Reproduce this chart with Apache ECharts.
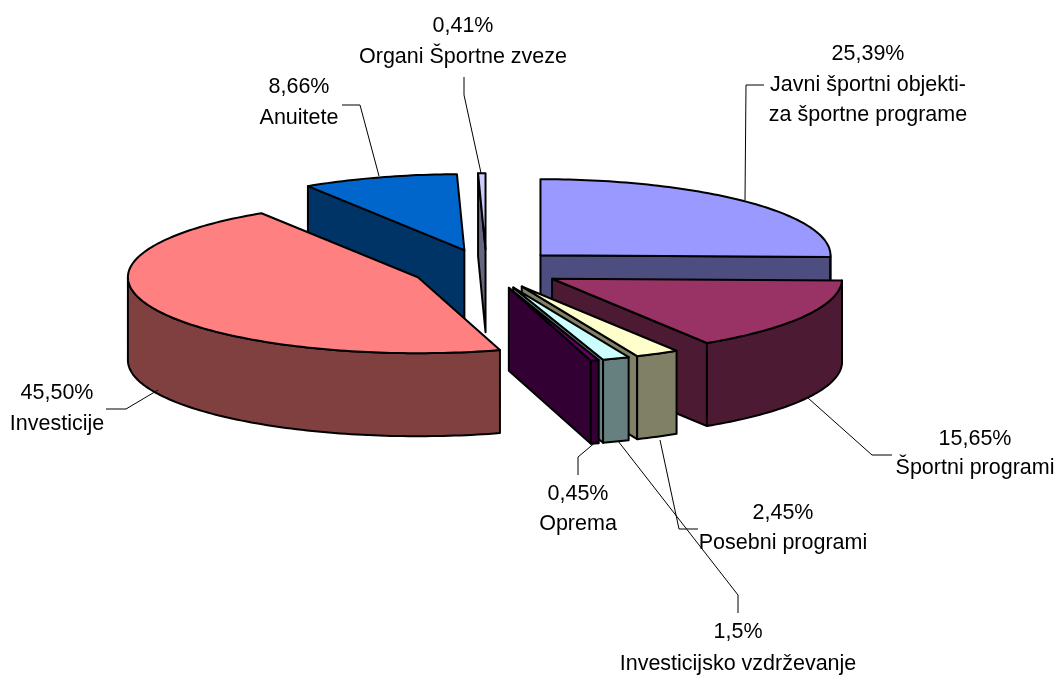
<!DOCTYPE html>
<html><head><meta charset="utf-8">
<style>html,body{margin:0;padding:0;background:#fff}#c{width:1056px;height:675px}</style>
<script src="https://cdn.jsdelivr.net/npm/echarts@6/dist/echarts.min.js"></script>
</head><body><div id="c"></div>
<script>
// Data (clockwise from 12 o'clock)
const categories = ['Javni športni objekti-\nza športne programe','Športni programi','Posebni programi','Investicijsko vzdrževanje','Oprema','Investicije','Anuitete','Organi Športne zveze'];
const values = [25.39,15.65,2.45,1.5,0.45,45.50,8.66,0.41];
const valueLabels = ['25,39%','15,65%','2,45%','1,5%','0,45%','45,50%','8,66%','0,41%'];
const topColors = ['#9999FF','#993366','#FFFFCC','#CCFFFF','#660066','#FF8080','#0066CC','#CCCCFF'];
const wallColors = ['#4D4D80','#4D1A33','#808066','#668080','#330033','#804040','#003366','#666680'];

// Layout
const drawOrder = [6,7,0,5,1,2,3,4];
const pie = {cx:486.5, cy:269, rx:290, ry:76, depth:83, explode:0.26};
const labelPos = [[868,54,85,30],[975,439,468,0],[783,513,543,0],[738,632,664,0],[578,494,524,0],[57,393,424,0],[299,87,118,0],[463,26,57,0]];
const leaders = [
 [[764,85],[746,85],[745,200]],
 [[892,455],[872,455],[808,398]],
 [[698,529],[679,529],[660,440]],
 [[738,613],[738,595],[618,441]],
 [[578,475],[578,457],[597,441]],
 [[106,409],[126,409],[158,390]],
 [[342,105],[360,105],[379,176]],
 [[464,77],[464,95],[481,173]]
];

const total = values.reduce((a,b)=>a+b,0);
const starts = []; values.reduce((a,v,i)=>{starts[i]=a;return a+v;},0);
const toAng = v => v/total*Math.PI*2;

function renderSlice(params, api){
  const i = api.value(0), v = api.value(1);
  const a0 = toAng(starts[i]), a1 = toAng(starts[i]+v), mid=(a0+a1)/2;
  const cx = pie.cx + pie.explode*pie.rx*Math.sin(mid);
  const cy = pie.cy - pie.explode*pie.ry*Math.cos(mid);
  const P = (t,d)=>[cx+pie.rx*Math.sin(t), cy-pie.ry*Math.cos(t)+(d||0)];
  const arc = (s,e,d)=>{const n=Math.max(2,Math.ceil((e-s)/0.02)),o=[];for(let k=0;k<=n;k++)o.push(P(s+(e-s)*k/n,d));return o;};
  const line = {stroke:'#000',lineWidth:2,lineJoin:'round'};
  const poly = (pts,fill)=>({type:'polygon',shape:{points:pts},style:Object.assign({fill},line),silent:true});
  const children = [];
  const D = pie.depth, C=[cx,cy], CB=[cx,cy+D];
  // only the cut faces turned towards the viewer
  if(Math.sin(a0)<0) children.push(poly([C,P(a0),P(a0,D),CB],wallColors[i]));
  if(Math.sin(a1)>0) children.push(poly([C,P(a1),P(a1,D),CB],wallColors[i]));
  const w0=Math.max(a0,Math.PI/2), w1=Math.min(a1,Math.PI*1.5);
  if(w1>w0) children.push(poly(arc(w0,w1,0).concat(arc(w0,w1,D).reverse()),wallColors[i]));
  children.push(poly([C].concat(arc(a0,a1,0)),topColors[i]));
  return {type:'group',children};
}
function renderLabel(params, api){
  const i = api.value(0), lp = labelPos[i], txt={fill:'#000',fontSize:21.5,fontFamily:'"Liberation Sans",Arial,sans-serif',align:'center',textAlign:'center',verticalAlign:'middle',textVerticalAlign:'middle'};
  const names = categories[i].split('\n');
  const children=[{type:'polyline',shape:{points:leaders[i]},style:{stroke:'#000',lineWidth:1,fill:null},silent:true},
    {type:'text',style:Object.assign({x:lp[0],y:lp[1],text:valueLabels[i]},txt),silent:true}];
  names.forEach((n,k)=>children.push({type:'text',style:Object.assign({x:lp[0],y:lp[2]+k*lp[3],text:n},txt),silent:true}));
  return {type:'group',children};
}
const chart = echarts.init(document.getElementById('c'),null,{renderer:'canvas'});
chart.setOption({
  animation:false, backgroundColor:'#fff',
  series:[
    {type:'custom',coordinateSystem:'none',renderItem:renderSlice,z:2,silent:true,
     data:drawOrder.map(i=>({name:categories[i],value:[i,values[i]]}))},
    {type:'custom',coordinateSystem:'none',renderItem:renderLabel,z:3,silent:true,
     data:categories.map((c,i)=>({name:c,value:[i,values[i]]}))}
  ]
});
</script></body></html>
